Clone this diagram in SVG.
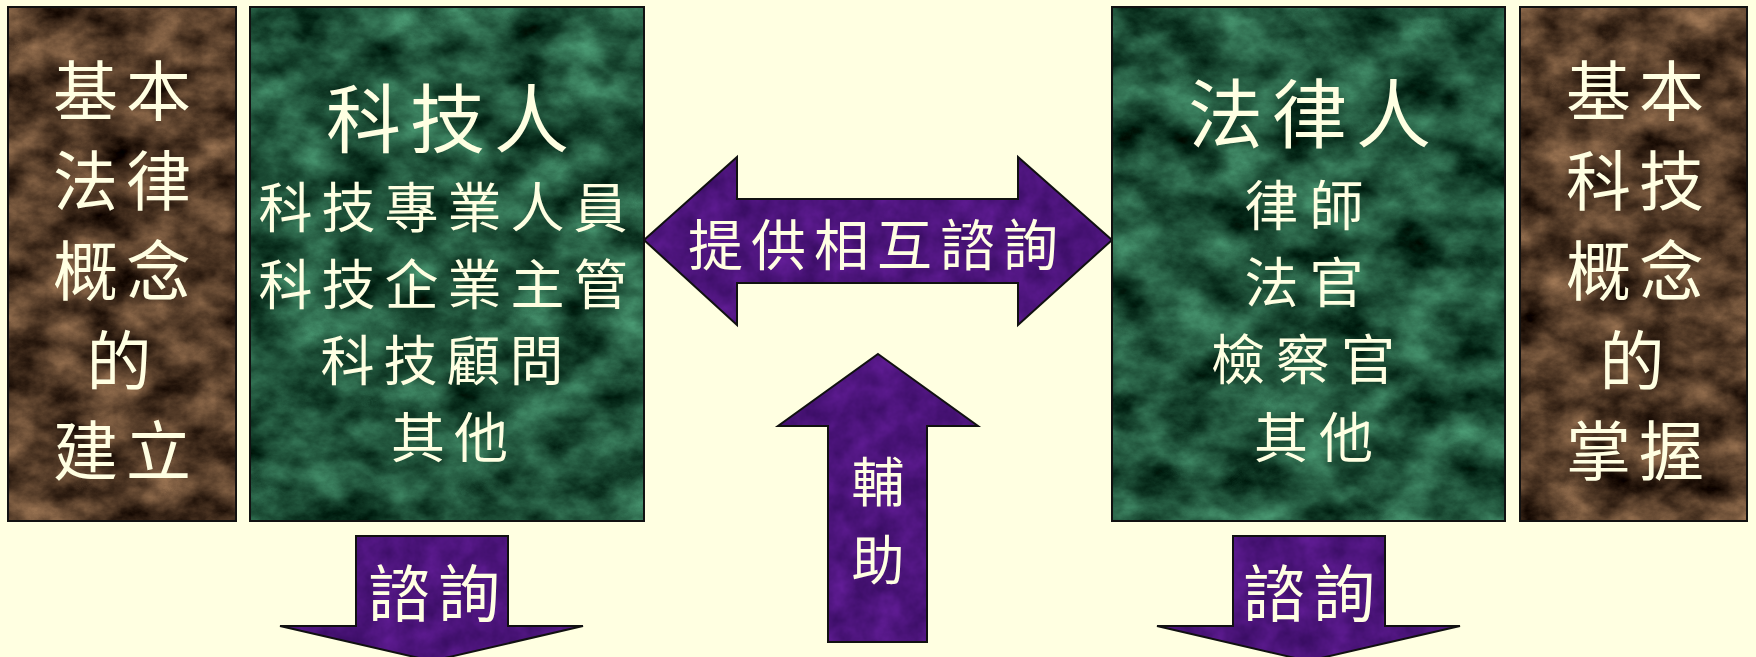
<svg xmlns="http://www.w3.org/2000/svg" width="1756" height="657" viewBox="0 0 1756 657">
<style>
.t{font-family:"Noto Sans CJK TC","Noto Sans CJK SC",sans-serif;fill:#FFFFE2;text-anchor:middle}
.b{font-size:65px;letter-spacing:8px}
.edge{fill:none;stroke:#111;stroke-width:2}
</style>
<defs>
<filter id="mGreen" x="0" y="0" width="100%" height="100%" color-interpolation-filters="sRGB">
<feTurbulence type="fractalNoise" baseFrequency="0.018 0.026" numOctaves="6" seed="7" result="n"/>
<feColorMatrix in="n" type="matrix" values="0.45 0 0 0 -0.1  0.75 0 0 0 -0.05  0.6 0 0 0 -0.07  0 0 0 0 1"/>
<feComposite in2="SourceGraphic" operator="in"/>
</filter>
<filter id="mBrown" x="0" y="0" width="100%" height="100%" color-interpolation-filters="sRGB">
<feTurbulence type="fractalNoise" baseFrequency="0.022 0.03" numOctaves="6" seed="11" result="n"/>
<feColorMatrix in="n" type="matrix" values="0.75 0 0 0 -0.05  0.6 0 0 0 -0.07  0.45 0 0 0 -0.07  0 0 0 0 1"/>
<feComposite in2="SourceGraphic" operator="in"/>
</filter>
<filter id="mPurple" x="0" y="0" width="100%" height="100%" color-interpolation-filters="sRGB">
<feTurbulence type="fractalNoise" baseFrequency="0.04" numOctaves="4" seed="4" result="n"/>
<feColorMatrix in="n" type="matrix" values="0.2 0 0 0 0.2  0.08 0 0 0 0.04  0.25 0 0 0 0.36  0 0 0 0 1"/>
<feComposite in2="SourceGraphic" operator="in"/>
</filter>
</defs>
<rect width="1756" height="657" fill="#FFFFE1"/>

<g id="connectors">
<g id="arrow-mutual">
<polygon points="644,240 737,157 737,199 1018,199 1018,157 1112,240 1018,325 1018,283 737,283 737,325" fill="#4B1A7E" filter="url(#mPurple)"/>
<polygon class="edge" points="644,240 737,157 737,199 1018,199 1018,157 1112,240 1018,325 1018,283 737,283 737,325"/>
<text class="t" x="877" y="265" font-size="55" letter-spacing="8">提供相互諮詢</text>
</g>
<g id="arrow-assist">
<polygon points="878,354 978,426 927,426 927,642 828,642 828,426 778,426" fill="#4B1A7E" filter="url(#mPurple)"/>
<polygon class="edge" points="878,354 978,426 927,426 927,642 828,642 828,426 778,426"/>
<text class="t" x="878" y="502" font-size="53">輔</text>
<text class="t" x="878" y="580" font-size="53">助</text>
</g>
<g id="arrow-consult-left">
<polygon points="356,536 508,536 508,626 583,626 432,661 280,626 356,626" fill="#4B1A7E" filter="url(#mPurple)"/>
<polygon class="edge" points="356,536 508,536 508,626 583,626 432,661 280,626 356,626"/>
<text class="t" x="438" y="617" font-size="62" letter-spacing="8">諮詢</text>
</g>
<g id="arrow-consult-right">
<polygon points="1233,536 1385,536 1385,626 1460,626 1308,661 1157,626 1233,626" fill="#4B1A7E" filter="url(#mPurple)"/>
<polygon class="edge" points="1233,536 1385,536 1385,626 1460,626 1308,661 1157,626 1233,626"/>
<text class="t" x="1313" y="617" font-size="62" letter-spacing="8">諮詢</text>
</g>
</g>

<g id="node-basic-law">
<rect x="8" y="7" width="228" height="514" fill="#5A3A22" filter="url(#mBrown)"/>
<rect class="edge" x="8" y="7" width="228" height="514"/>
<text class="t b" x="126" y="115">基本</text>
<text class="t b" x="126" y="205">法律</text>
<text class="t b" x="126" y="295">概念</text>
<text class="t b" x="123" y="385">的</text>
<text class="t b" x="126" y="475">建立</text>
</g>

<g id="node-tech-people">
<rect x="250" y="7" width="394" height="514" fill="#1F5A3A" filter="url(#mGreen)"/>
<rect class="edge" x="250" y="7" width="394" height="514"/>
<text class="t" x="452" y="147" font-size="75" letter-spacing="9">科技人</text>
<text class="t" font-size="54" letter-spacing="9">
<tspan x="458" y="228">科技專業人員</tspan>
<tspan x="458" y="305">科技企業主管</tspan>
<tspan x="457" y="381">科技顧問</tspan>
<tspan x="454" y="458">其他</tspan>
</text>
</g>

<g id="node-law-people">
<rect x="1112" y="7" width="393" height="514" fill="#1F5A3A" filter="url(#mGreen)"/>
<rect class="edge" x="1112" y="7" width="393" height="514"/>
<text class="t" x="1314" y="142" font-size="75" letter-spacing="9">法律人</text>
<text class="t" font-size="54" letter-spacing="11">
<tspan x="1321" y="226">律師</tspan>
<tspan x="1321" y="303">法官</tspan>
<tspan x="1320" y="380">檢察官</tspan>
<tspan x="1319" y="458">其他</tspan>
</text>
</g>

<g id="node-basic-tech">
<rect x="1520" y="7" width="227" height="514" fill="#5A3A22" filter="url(#mBrown)"/>
<rect class="edge" x="1520" y="7" width="227" height="514"/>
<text class="t b" x="1639" y="115">基本</text>
<text class="t b" x="1639" y="205">科技</text>
<text class="t b" x="1639" y="295">概念</text>
<text class="t b" x="1636" y="385">的</text>
<text class="t b" x="1639" y="475">掌握</text>
</g>
</svg>
